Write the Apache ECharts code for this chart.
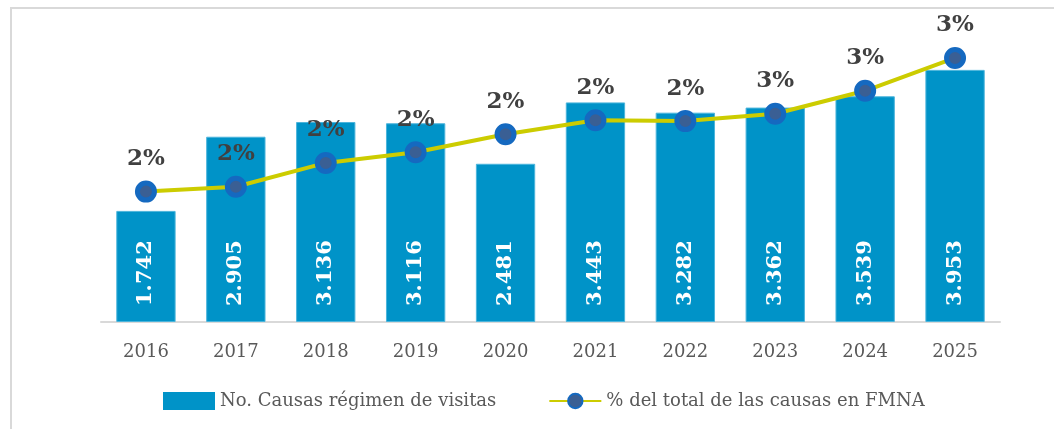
<!DOCTYPE html>
<html>
<head>
<meta charset="utf-8">
<script src="https://cdn.jsdelivr.net/npm/echarts@6/dist/echarts.min.js"></script>
<style>
  html, body { margin: 0; padding: 0; background: #fff; }
  .frame {
    position: absolute; left: 10px; top: 7px; width: 1044px; height: 422px;
    border-top: 2px solid #d9d9d9; border-left: 2px solid #d9d9d9;
    box-sizing: border-box;
  }
  #chart { position: absolute; left: 0; top: 0; width: 1054px; height: 429px; }
</style>
</head>
<body>
<div class="frame"></div>
<div id="chart"></div>
<script>
const years = ["2016", "2017", "2018", "2019", "2020", "2021", "2022", "2023", "2024", "2025"];
const causas = [1742, 2905, 3136, 3116, 2481, 3443, 3282, 3362, 3539, 3953];
// porcentaje del total (valores estimados a partir de la posicion de la linea)
const porcentaje = [1.59, 1.65, 1.94, 2.07, 2.29, 2.46, 2.45, 2.54, 2.82, 3.22];

const serif = "'DejaVu Serif', 'Liberation Serif', serif";

const chart = echarts.init(document.getElementById("chart"));
const option = {
  animation: false,
  grid: { left: 101, right: 54, top: 35, bottom: 107 },
  legend: {
    bottom: 14,
    left: 158,
    itemGap: 52,
    textStyle: { fontFamily: serif, fontSize: 18, color: "#595959" },
    data: [
      {
        name: "No. Causas régimen de visitas",
        icon: "rect",
        itemWidth: 48,
        itemHeight: 12,
        itemStyle: { borderWidth: 0 },
      },
      { name: "% del total de las causas en FMNA" },
    ],
    itemWidth: 52,
    itemHeight: 18,
  },
  xAxis: {
    type: "category",
    data: years,
    axisLine: { lineStyle: { color: "#d9d9d9", width: 2 } },
    axisTick: { show: false },
    axisLabel: { fontFamily: serif, fontSize: 18, color: "#595959", margin: 21 },
  },
  yAxis: [
    { type: "value", min: 0, max: 4500, show: false },
    { type: "value", min: 0, max: 3.5, show: false },
  ],
  series: [
    {
      name: "No. Causas régimen de visitas",
      type: "bar",
      data: causas,
      barWidth: "66%",
      itemStyle: { color: "#0093c8", borderColor: "#4cb5dc", borderWidth: 1 },
      label: {
        show: true,
        position: "insideBottom",
        rotate: 90,
        align: "left",
        verticalAlign: "middle",
        distance: 16,
        fontFamily: serif,
        fontWeight: "bold",
        fontSize: 21,
        color: "#ffffff",
        formatter: (p) => (p.value / 1000).toFixed(3),
      },
      z: 1,
    },
    {
      name: "% del total de las causas en FMNA",
      type: "line",
      yAxisIndex: 1,
      data: porcentaje,
      symbol: "circle",
      symbolSize: 17,
      lineStyle: { color: "#cccc00", width: 4 },
      itemStyle: { color: "#3a5f94", borderColor: "#1569c0", borderWidth: 5 },
      label: {
        show: true,
        position: "top",
        distance: 10,
        fontFamily: serif,
        fontWeight: "bold",
        fontSize: 23,
        color: "#404040",
        formatter: (p) => Math.round(p.value) + "%",
      },
      z: 3,
    },
  ],
};
chart.setOption(option);
</script>
</body>
</html>
